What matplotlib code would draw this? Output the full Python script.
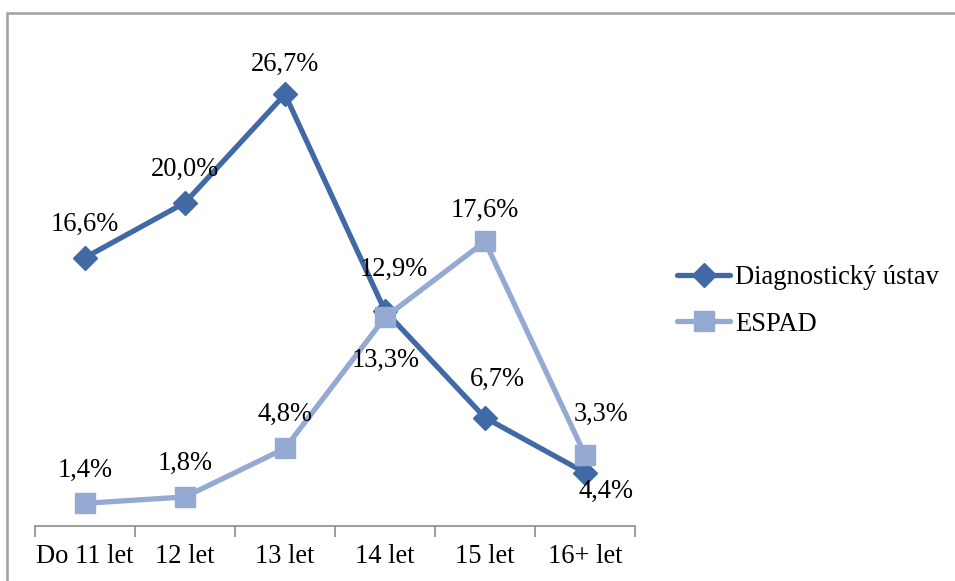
import matplotlib
matplotlib.use("Agg")
import matplotlib.pyplot as plt
from matplotlib.patches import Rectangle

plt.rcParams['font.family'] = ['Liberation Serif', 'DejaVu Serif']

categories = ["Do 11 let", "12 let", "13 let", "14 let", "15 let", "16+ let"]
diag = [16.6, 20.0, 26.7, 13.3, 6.7, 3.3]
espad = [1.4, 1.8, 4.8, 12.9, 17.6, 4.4]
series_names = ["Diagnostický ústav", "ESPAD"]

# label offsets in pixels (dx, dy) from each marker
diag_off = [(0, 33), (0, 33), (0, 30), (1, -49), (12, 38), (16, 58)]
espad_off = [(0, 33), (0, 33), (0, 34), (9, 48), (0, 31), (21, -37)]

c_diag = "#4169A5"
c_espad = "#94AAD2"
fs = 19.1

W, H = 955, 581
fig = plt.figure(figsize=(W / 100, H / 100), dpi=100)
ax = fig.add_axes([35 / W, (H - 526) / H, 600 / W, (526 - 41) / H])

x = list(range(len(categories)))
ax.plot(x, diag, color=c_diag, lw=3.8, marker="D", ms=12.5, mfc=c_diag, mec=c_diag,
        label=series_names[0], zorder=3, solid_capstyle="round")
ax.plot(x, espad, color=c_espad, lw=3.8, marker="s", ms=14.5, mfc=c_espad, mec=c_espad,
        label=series_names[1], zorder=4, solid_capstyle="round")

def fmt(v):
    return f"{v:.1f}".replace(".", ",") + "%"

for xi, v, (dx, dy) in zip(x, diag, diag_off):
    ax.annotate(fmt(v), (xi, v), xytext=(dx, dy), textcoords="offset pixels",
                ha="center", va="center", fontsize=fs, zorder=5)
for xi, v, (dx, dy) in zip(x, espad, espad_off):
    ax.annotate(fmt(v), (xi, v), xytext=(dx, dy), textcoords="offset pixels",
                ha="center", va="center", fontsize=fs, zorder=5)

ax.set_xlim(-0.5, len(categories) - 0.5)
ax.set_ylim(0, 30)
for s in ["top", "right", "left"]:
    ax.spines[s].set_visible(False)
ax.spines["bottom"].set_color("#8c8c8c")
ax.spines["bottom"].set_linewidth(1.2)
ax.set_yticks([])
ax.set_xticks(x)
ax.set_xticklabels(categories, fontsize=fs)
ax.tick_params(axis="x", which="major", length=0, pad=13)
ax.set_xticks([i - 0.5 for i in range(len(categories) + 1)], minor=True)
ax.tick_params(axis="x", which="minor", length=8, width=1.2, color="#8c8c8c", direction="out")

fig.legend(loc="center left", bbox_to_anchor=(677 / W, 1 - 301 / H), frameon=False,
           fontsize=fs, handlelength=2.0, handletextpad=0.2, labelspacing=0.8,
           borderpad=0, borderaxespad=0)

fig.patches.append(Rectangle((7 / W, -0.1), 1.2, 1 - 13 / H + 0.1, transform=fig.transFigure,
                             fill=False, edgecolor="#a0a0a0", linewidth=1.8))

fig.savefig("out.png", dpi=100)
